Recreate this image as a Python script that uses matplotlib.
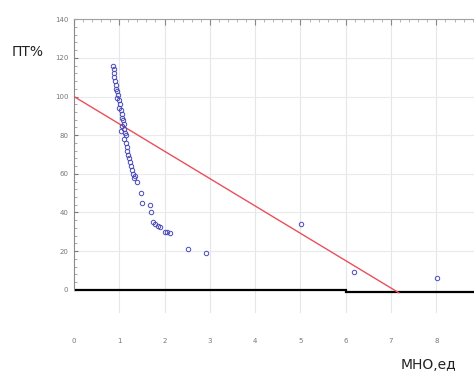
import matplotlib.pyplot as plt

# scatter points (МНО, ПТ%)
mno = [0.87, 0.88, 0.88, 0.89, 0.90, 0.92, 0.93, 0.95, 0.97, 0.96, 1.00, 1.02, 1.00,
       1.04, 1.06, 1.05, 1.08, 1.10, 1.06, 1.10, 1.03, 1.12, 1.15, 1.10, 1.14, 1.18,
       1.17, 1.20, 1.22, 1.24, 1.26, 1.28, 1.30, 1.33, 1.39, 1.35, 1.49, 1.50, 1.68,
       1.70, 1.75, 1.80, 1.85, 1.90, 2.00, 2.05, 2.12, 2.51, 2.91, 5.01, 6.18, 8.01]
pt = [116, 114, 112, 110, 108, 106, 104, 103, 101, 99, 98, 96, 94,
      93, 91, 89, 88, 86, 85, 83, 82, 81, 80, 78, 76, 74,
      72, 70, 68, 66, 64, 62, 60, 58, 56, 59, 50, 45, 44,
      40, 35, 34, 33, 32.5, 30, 30, 29.5, 21, 19, 34, 9, 6]

# regression line end points
line_x = [0, 7.17]
line_y = [100, -1.5]

# black base line (two pieces with a small step)
base_x1 = [0, 6]
base_y1 = [0, 0]
base_x2 = [6, 8.83]
base_y2 = [-1, -1]

x_ticks = [0, 1, 2, 3, 4, 5, 6, 7, 8]
y_ticks = [0, 20, 40, 60, 80, 100, 120, 140]

fig = plt.figure(figsize=(4.74, 3.76), dpi=100)
ax = fig.add_axes([0.156, 0.168, 0.844, 0.781])

ax.set_xlim(0, 8.83)
ax.set_ylim(-11.9, 140)

# grid
for xv in x_ticks[1:]:
    ax.axvline(xv, color='#e4e6ea', lw=0.8, zorder=0)
for yv in y_ticks[1:-1]:
    ax.axhline(yv, color='#e8eaee', lw=0.8, zorder=0)

ax.plot(base_x1, base_y1, color='black', lw=1.6, zorder=2)
ax.plot(base_x2, base_y2, color='black', lw=1.6, zorder=2)
ax.plot(line_x, line_y, color='#e8505a', lw=1.0, zorder=3)
ax.plot(mno, pt, linestyle='none', marker='o', markersize=3.2, markerfacecolor='none',
        markeredgecolor='#4a4ab8', markeredgewidth=0.7, zorder=4)

# spines
ax.spines['bottom'].set_visible(False)
ax.spines['right'].set_visible(False)
ax.spines['left'].set_color('#8a8a8a')
ax.spines['left'].set_bounds(0, 140)
ax.spines['top'].set_color('#a0a0a0')

ax.set_yticks(y_ticks)
ax.set_yticklabels([str(v) for v in y_ticks])
ax.set_yticks(range(0, 141, 4), minor=True)
ax.tick_params(axis='y', which='major', direction='in', length=3, color='#777777',
               labelsize=5, labelcolor='#777777', pad=4)
ax.tick_params(axis='y', which='minor', direction='in', length=2, color='#999999')

ax.set_xticks(x_ticks)
ax.set_xticklabels([str(v) for v in x_ticks])
ax.set_xticks([i * 0.2 for i in range(45)], minor=True)
ax.tick_params(axis='x', which='major', bottom=False, top=True, direction='in', length=4,
               color='#888888', labelsize=5, labelcolor='#777777', pad=18)
ax.tick_params(axis='x', which='minor', bottom=False, top=True, direction='in', length=2,
               color='#aaaaaa')

fig.text(0.025, 0.862, 'ПТ%', fontsize=10, color='#222222', va='center')
fig.text(0.845, 0.028, 'МНО,ед', fontsize=10, color='#222222', va='center')

fig.savefig('out.png', dpi=100)
